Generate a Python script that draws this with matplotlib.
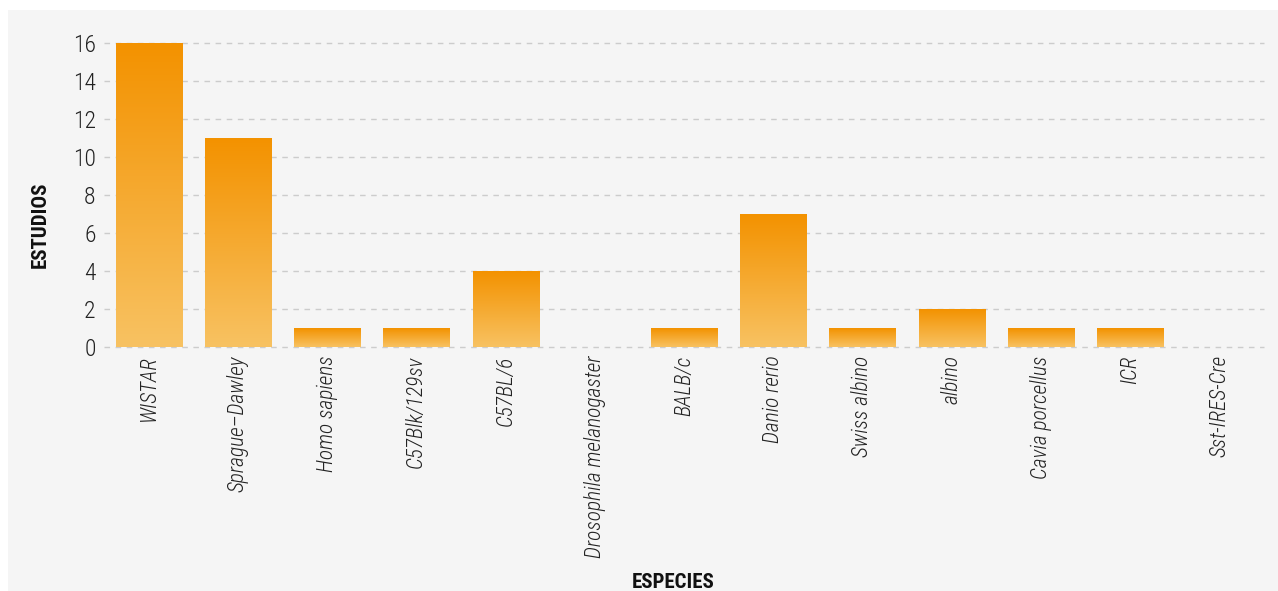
import matplotlib
matplotlib.use("Agg")
import matplotlib.pyplot as plt
import numpy as np
from matplotlib.patches import Rectangle
from matplotlib.colors import LinearSegmentedColormap
from matplotlib import font_manager

categories = ["WISTAR", "Sprague–Dawley", "Homo sapiens", "C57Blk/129sv", "C57BL/6",
              "Drosophila melanogaster", "BALB/c", "Danio rerio", "Swiss albino",
              "albino", "Cavia porcellus", "ICR", "Sst-IRES-Cre"]
values = [16, 11, 1, 1, 4, 0, 1, 7, 1, 2, 1, 1, 0]
yticks = [0, 2, 4, 6, 8, 10, 12, 14, 16]

names = {f.name for f in font_manager.fontManager.ttflist}
family = "DejaVu Sans"
for cand in ["Roboto Condensed", "Liberation Sans Narrow", "DejaVu Sans"]:
    if cand in names:
        family = cand
        break
plt.rcParams['font.family'] = [family, "DejaVu Sans"]

W, H = 1278, 591
fig = plt.figure(figsize=(W / 100, H / 100), dpi=100, facecolor="white")
fig.patches.append(Rectangle((8 / W, 0), 1 - 8 / W, (H - 10) / H, transform=fig.transFigure,
                             facecolor="#f5f5f5", edgecolor="none", zorder=-5))

ax = fig.add_axes([104 / W, (H - 347) / H, (1264 - 104) / W, (347 - 43) / H])
ax.set_zorder(2)
ax.set_facecolor("none")
x = np.arange(len(categories))
bars = ax.bar(x, values, width=0.74, color="#f5a623", edgecolor="none", zorder=2)

cmap = LinearSegmentedColormap.from_list("g", ["#f8c262", "#f39200"])
grad = np.linspace(0, 1, 256).reshape(-1, 1)
for b in bars:
    h = b.get_height()
    if h <= 0:
        b.set_visible(False)
        continue
    im = ax.imshow(grad, cmap=cmap, origin="lower", aspect="auto", zorder=3,
                   extent=(b.get_x(), b.get_x() + b.get_width(), 0, h))
    im.set_clip_path(b)

ax.set_xlim(-0.5, len(categories) - 0.5)
ax.set_ylim(0, 16)
ax.set_yticks(yticks)
ax.set_yticklabels([str(t) for t in yticks], fontsize=17, color="#222222", fontweight="light")
ax.yaxis.grid(True, linestyle=(0, (4, 4)), color="#cccccc", linewidth=1, zorder=1)
for gl in ax.get_ygridlines():
    gl.set_clip_on(False)
ax.set_axisbelow(True)
ax.set_xticks(x)
ax.set_xticklabels(categories, rotation=90, fontsize=15.5, style="italic", color="#222222",
                   fontweight="light", ha="center", va="top")
ax.tick_params(axis="both", length=0)
ax.tick_params(axis="y", pad=6)
ax.tick_params(axis="x", pad=6)
for s in ax.spines.values():
    s.set_visible(False)

fig.text(40 / W, 1 - 225 / H, "ESTUDIOS", rotation=90, fontsize=15, fontweight="bold",
         ha="center", va="center", color="#111111")
fig.text(673 / W, 1 - 583 / H, "ESPECIES", fontsize=15, fontweight="bold",
         ha="center", va="center", color="#111111")

fig.savefig("out.png", dpi=100, facecolor="white")
